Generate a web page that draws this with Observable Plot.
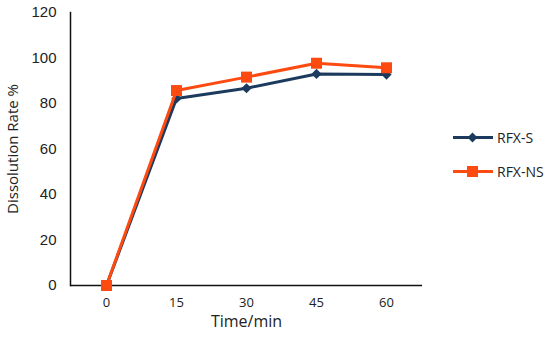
<!DOCTYPE html>
<html><head><meta charset="utf-8">
<script src="https://cdn.jsdelivr.net/npm/d3@7"></script>
<script src="https://cdn.jsdelivr.net/npm/@observablehq/plot@0.6"></script>
<style>
body{margin:0;background:#fff;}
#wrap{position:relative;width:550px;height:337px;}
.leg{position:absolute;left:452px;font:14px "Open Sans",sans-serif;color:#222;display:flex;align-items:center;}
.leg svg{margin-right:3px;}
</style></head>
<body><div id="wrap"></div>
<script>
const times = ["0","15","30","45","60"];
const rfxS = [0, 82.2, 86.7, 93.0, 92.7];
const rfxNS = [0, 85.7, 91.6, 97.7, 95.7];
const seriesNames = ["RFX-S","RFX-NS"];
const colors = ["#1c3a5e","#fc4a10"];
const yTicks = [0,20,40,60,80,100,120];

const rows = [];
times.forEach((t,i)=>{rows.push({t,v:rfxS[i],s:seriesNames[0]});});
times.forEach((t,i)=>{rows.push({t,v:rfxNS[i],s:seriesNames[1]});});
const S = rows.filter(d=>d.s===seriesNames[0]);
const N = rows.filter(d=>d.s===seriesNames[1]);

const chart = Plot.plot({
  width:550, height:337,
  marginLeft:70, marginRight:128, marginTop:12, marginBottom:52,
  style:{fontFamily:"'Liberation Sans',Arial,sans-serif", fontSize:"13px", color:"#222", background:"transparent"},
  x:{type:"band", domain:times, padding:0, label:null},
  y:{domain:[0,120], label:null},
  marks:[
    Plot.axisY({ticks:yTicks, tickSize:0, tickPadding:14, fontSize:15, label:null}),
    Plot.axisX({tickSize:0, tickPadding:12, fontSize:13, fontFamily:"'Open Sans',sans-serif", label:null}),
    Plot.text(["Dissolution Rate %"],{frameAnchor:"left", textAnchor:"middle", dx:-57, rotate:-90, fontSize:15, fontFamily:"'Open Sans',sans-serif", fill:"#222"}),
    Plot.text(["Time/min"],{frameAnchor:"bottom", dy:41, fontSize:16, fontFamily:"'Open Sans',sans-serif", fill:"#222"}),
    Plot.ruleY([0],{stroke:"#111", strokeWidth:1.5}),
    Plot.line(S,{x:"t", y:"v", stroke:colors[0], strokeWidth:3}),
    Plot.dot(S,{x:"t", y:"v", symbol:"diamond2", r:4.6, fill:colors[0], stroke:"none"}),
    Plot.line(N,{x:"t", y:"v", stroke:colors[1], strokeWidth:3}),
    Plot.dot(N,{x:"t", y:"v", symbol:"square", r:6.2, fill:colors[1], stroke:"none"}),
    Plot.frame({anchor:"left", stroke:"#111", strokeWidth:1.5})
  ]
});
const wrap = document.getElementById("wrap");
wrap.appendChild(chart);

function legendItem(name, color, shape, top){
  const div = document.createElement("div");
  div.className="leg"; div.style.top = top+"px";
  const m = shape==="square"
    ? `<rect x="15" y="4" width="11" height="11" fill="${color}"/>`
    : `<path d="M20.5 4.5 L25.5 9.5 L20.5 14.5 L15.5 9.5Z" fill="${color}"/>`;
  div.innerHTML = `<svg width="42" height="19"><line x1="1" x2="41" y1="9.5" y2="9.5" stroke="${color}" stroke-width="3"/>${m}</svg><span>${name}</span>`;
  wrap.appendChild(div);
}
legendItem(seriesNames[0], colors[0], "diamond", 128);
legendItem(seriesNames[1], colors[1], "square", 162);
</script></body></html>
